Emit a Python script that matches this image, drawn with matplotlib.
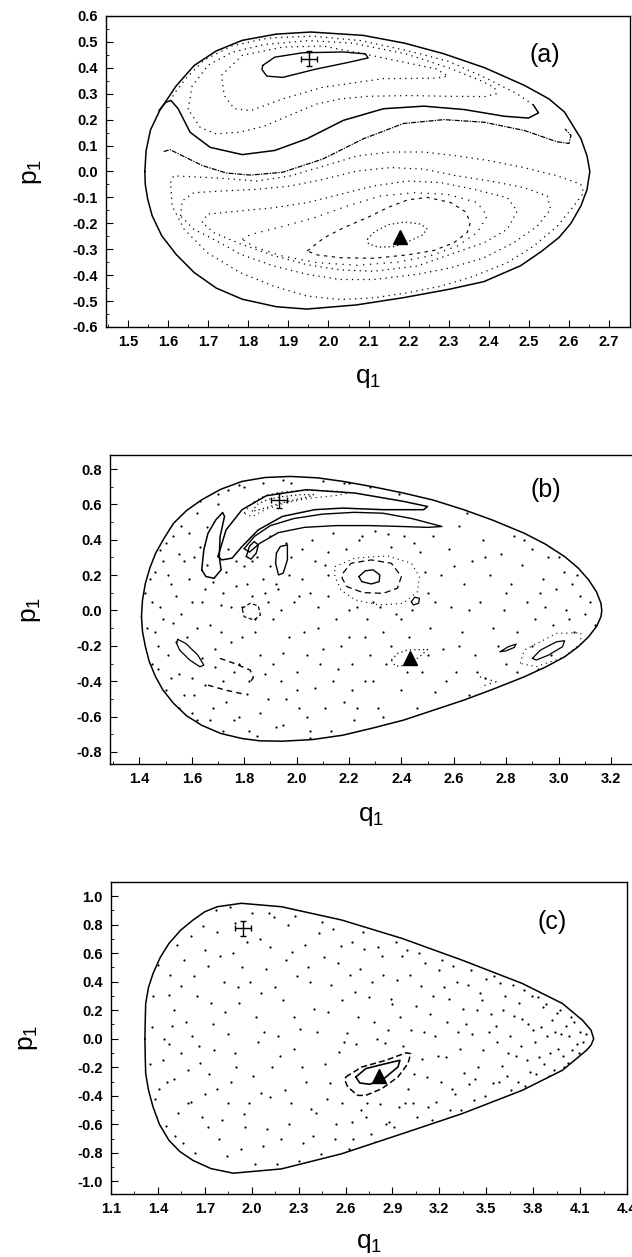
import numpy as np
import matplotlib
matplotlib.use("Agg")
import matplotlib.pyplot as plt
from matplotlib.ticker import FixedLocator, FormatStrFormatter
from matplotlib.patches import Polygon

plt.rcParams['font.family'] = ['Liberation Sans Narrow', 'Liberation Sans', 'DejaVu Sans']
plt.rcParams['axes.unicode_minus'] = False

# ---------------- panel (a) ----------------
a_xticks = [1.5, 1.6, 1.7, 1.8, 1.9, 2.0, 2.1, 2.2, 2.3, 2.4, 2.5, 2.6, 2.7]
a_yticks = [-0.6, -0.5, -0.4, -0.3, -0.2, -0.1, 0.0, 0.1, 0.2, 0.3, 0.4, 0.5, 0.6]
a_outer = [(1.542, 0.00), (1.545, 0.08), (1.556, 0.16), (1.579, 0.235), (1.62, 0.33), (1.665, 0.409),
           (1.72, 0.465), (1.785, 0.506), (1.87, 0.53), (1.956, 0.538), (2.087, 0.525), (2.19, 0.495),
           (2.288, 0.454), (2.39, 0.40), (2.489, 0.332), (2.55, 0.28), (2.589, 0.229), (2.63, 0.126),
           (2.645, 0.06), (2.652, 0.0), (2.645, -0.07), (2.63, -0.132), (2.605, -0.20), (2.575, -0.255),
           (2.53, -0.31), (2.479, -0.364), (2.44, -0.39), (2.388, -0.425), (2.30, -0.455), (2.187, -0.487),
           (2.07, -0.515), (1.946, -0.531), (1.87, -0.522), (1.785, -0.493), (1.72, -0.45), (1.665, -0.39),
           (1.62, -0.32), (1.584, -0.248), (1.56, -0.17), (1.549, -0.106), (1.543, -0.05)]
a_cross_island = [(1.836, 0.409), (1.866, 0.441), (1.936, 0.458), (2.037, 0.461), (2.092, 0.454),
                  (2.099, 0.438), (2.047, 0.420), (1.966, 0.394), (1.886, 0.363), (1.846, 0.368),
                  (1.834, 0.394)]
a_ring2 = [(1.733, 0.371), (1.785, 0.448), (1.886, 0.480), (1.986, 0.484), (2.087, 0.454),
           (2.187, 0.422), (2.268, 0.396), (2.298, 0.368), (2.268, 0.36), (2.137, 0.358),
           (1.986, 0.325), (1.886, 0.28), (1.806, 0.235), (1.765, 0.242), (1.740, 0.293)]
a_ring3 = [(1.65, 0.24), (1.66, 0.33), (1.70, 0.41), (1.76, 0.46), (1.84, 0.49), (1.95, 0.505),
           (2.06, 0.495), (2.19, 0.455), (2.30, 0.40), (2.38, 0.35), (2.414, 0.325), (2.419, 0.30),
           (2.39, 0.289), (2.30, 0.29), (2.20, 0.293), (2.10, 0.29), (2.03, 0.28), (1.97, 0.26),
           (1.90, 0.215), (1.84, 0.175), (1.78, 0.152), (1.72, 0.145), (1.68, 0.17)]
a_sep4_low = [(1.577, 0.235), (1.594, 0.267), (1.607, 0.274), (1.625, 0.242), (1.655, 0.151),
              (1.705, 0.093), (1.785, 0.065), (1.866, 0.081), (1.946, 0.126), (2.037, 0.197),
              (2.137, 0.242), (2.238, 0.252), (2.338, 0.239), (2.439, 0.213), (2.499, 0.206),
              (2.524, 0.226), (2.511, 0.257)]
a_sep4_up = [(2.511, 0.257), (2.47, 0.30), (2.40, 0.355), (2.30, 0.425), (2.20, 0.465), (2.08, 0.505),
             (1.96, 0.522), (1.85, 0.515), (1.76, 0.485), (1.69, 0.43), (1.645, 0.36), (1.615, 0.30),
             (1.607, 0.274)]
a_sep5 = [(1.589, 0.077), (1.605, 0.084), (1.635, 0.061), (1.685, 0.023), (1.745, -0.006),
          (1.806, -0.014), (1.886, -0.003), (1.986, 0.048), (2.087, 0.126), (2.187, 0.185),
          (2.288, 0.2), (2.388, 0.19), (2.489, 0.158), (2.569, 0.115), (2.60, 0.108), (2.605, 0.139),
          (2.59, 0.164)]
a_c6 = [(1.606, -0.043), (1.614, -0.017), (1.656, -0.020), (1.739, -0.027), (1.822, -0.037),
        (1.905, -0.017), (1.989, 0.021), (2.072, 0.060), (2.155, 0.075), (2.238, 0.075), (2.321, 0.060),
        (2.404, 0.041), (2.487, 0.015), (2.571, -0.017), (2.629, -0.049), (2.637, -0.082),
        (2.612, -0.133), (2.571, -0.211), (2.512, -0.288), (2.446, -0.352), (2.363, -0.404),
        (2.280, -0.443), (2.197, -0.468), (2.113, -0.488), (2.030, -0.494), (1.947, -0.481),
        (1.864, -0.443), (1.781, -0.391), (1.698, -0.314), (1.640, -0.223), (1.610, -0.133)]
a_c7 = [(1.631, -0.172), (1.635, -0.114), (1.664, -0.082), (1.739, -0.075), (1.822, -0.069),
        (1.905, -0.056), (1.989, -0.030), (2.072, 0.002), (2.155, 0.015), (2.238, 0.009),
        (2.321, -0.017), (2.404, -0.037), (2.487, -0.062), (2.546, -0.095), (2.554, -0.146),
        (2.521, -0.211), (2.462, -0.275), (2.388, -0.333), (2.304, -0.372), (2.221, -0.397),
        (2.113, -0.417), (2.030, -0.417), (1.947, -0.397), (1.864, -0.365), (1.781, -0.320),
        (1.714, -0.262), (1.664, -0.223)]
a_c8 = [(1.685, -0.197), (1.698, -0.165), (1.781, -0.152), (1.864, -0.140), (1.947, -0.120),
        (2.030, -0.088), (2.113, -0.056), (2.197, -0.037), (2.280, -0.043), (2.363, -0.069),
        (2.446, -0.101), (2.471, -0.153), (2.446, -0.223), (2.388, -0.275), (2.304, -0.320),
        (2.221, -0.365), (2.113, -0.385), (2.030, -0.38), (1.947, -0.36), (1.864, -0.325),
        (1.781, -0.280), (1.714, -0.236)]
a_c8b = [(1.785, -0.262), (1.806, -0.243), (1.881, -0.214), (1.964, -0.179), (2.047, -0.133),
         (2.130, -0.095), (2.213, -0.082), (2.296, -0.088), (2.371, -0.120), (2.396, -0.172),
         (2.371, -0.236), (2.321, -0.288), (2.255, -0.325), (2.172, -0.350), (2.072, -0.362),
         (1.972, -0.352), (1.881, -0.325), (1.814, -0.290)]
a_c9 = [(1.947, -0.307), (1.989, -0.256), (2.038, -0.217), (2.097, -0.178), (2.147, -0.140),
        (2.197, -0.110), (2.246, -0.100), (2.305, -0.120), (2.342, -0.156), (2.354, -0.197),
        (2.346, -0.236), (2.313, -0.275), (2.263, -0.305), (2.197, -0.322), (2.113, -0.335),
        (2.030, -0.333), (1.972, -0.322)]
a_c10 = [(2.097, -0.262), (2.115, -0.232), (2.15, -0.205), (2.19, -0.195), (2.23, -0.203),
         (2.246, -0.222), (2.235, -0.245), (2.20, -0.27), (2.165, -0.29), (2.125, -0.292),
         (2.10, -0.28)]
a_cross = (1.951, 0.435, 0.02, 0.028)
a_tri = (2.178, -0.252)

# ---------------- panel (b) ----------------
b_xticks = [1.4, 1.6, 1.8, 2.0, 2.2, 2.4, 2.6, 2.8, 3.0, 3.2]
b_yticks = [-0.8, -0.6, -0.4, -0.2, 0.0, 0.2, 0.4, 0.6, 0.8]
b_outer = [(1.408, -0.035), (1.412, 0.06), (1.423, 0.154), (1.44, 0.24), (1.462, 0.324), (1.495, 0.41),
           (1.531, 0.494), (1.58, 0.565), (1.638, 0.626), (1.71, 0.685), (1.792, 0.730), (1.88, 0.752),
           (1.977, 0.758), (2.08, 0.75), (2.177, 0.730), (2.29, 0.70), (2.408, 0.664), (2.52, 0.625),
           (2.638, 0.570), (2.75, 0.51), (2.869, 0.437), (2.95, 0.375), (3.023, 0.305), (3.075, 0.24),
           (3.115, 0.173), (3.145, 0.105), (3.162, 0.040), (3.165, 0.0), (3.162, -0.035), (3.145, -0.09),
           (3.115, -0.148), (3.075, -0.205), (3.023, -0.262), (2.95, -0.32), (2.869, -0.375), (2.75, -0.445),
           (2.638, -0.507), (2.52, -0.565), (2.408, -0.620), (2.29, -0.665), (2.177, -0.705), (2.06, -0.73),
           (1.946, -0.739), (1.86, -0.737), (1.792, -0.724), (1.71, -0.695), (1.638, -0.649), (1.58, -0.595),
           (1.531, -0.526), (1.49, -0.45), (1.462, -0.375), (1.438, -0.29), (1.423, -0.205), (1.412, -0.12)]
b_crescent_a = [(1.700, 0.305), (1.731, 0.456), (1.792, 0.570), (1.885, 0.649), (2.038, 0.683),
                (2.223, 0.664), (2.408, 0.617), (2.500, 0.588), (2.485, 0.570), (2.331, 0.570),
                (2.177, 0.579), (2.069, 0.570), (1.946, 0.532), (1.854, 0.456), (1.792, 0.362),
                (1.754, 0.296), (1.715, 0.286)]
b_cross_island = [(1.830, 0.560), (1.85, 0.60), (1.89, 0.628), (1.95, 0.645), (2.02, 0.655),
                  (2.065, 0.655), (2.05, 0.645), (1.99, 0.625), (1.93, 0.603), (1.87, 0.575)]
b_cross_ring = [(1.80, 0.55), (1.83, 0.61), (1.88, 0.65), (1.95, 0.672), (2.05, 0.68), (2.15, 0.675),
                (2.20, 0.665), (2.15, 0.650), (2.05, 0.635), (1.96, 0.61), (1.88, 0.57), (1.83, 0.53)]
b_crescent_l = [(1.80, 0.35), (1.84, 0.42), (1.90, 0.48), (1.99, 0.52), (2.10, 0.545), (2.22, 0.555),
                (2.33, 0.55), (2.44, 0.52), (2.555, 0.475), (2.50, 0.47), (2.40, 0.475), (2.28, 0.48),
                (2.15, 0.48), (2.03, 0.47), (1.93, 0.44), (1.86, 0.38), (1.82, 0.33)]
b_island_d = [(1.638, 0.230), (1.646, 0.343), (1.662, 0.437), (1.692, 0.513), (1.718, 0.554),
              (1.725, 0.532), (1.708, 0.418), (1.705, 0.305), (1.712, 0.230), (1.685, 0.182),
              (1.654, 0.192)]
b_island_e = [(1.808, 0.305), (1.820, 0.362), (1.838, 0.390), (1.854, 0.371), (1.846, 0.324),
              (1.826, 0.290)]
b_island_f = [(1.923, 0.324), (1.938, 0.362), (1.965, 0.371), (1.965, 0.286), (1.949, 0.211),
              (1.931, 0.201), (1.920, 0.267)]
b_centre_in = [(2.238, 0.192), (2.262, 0.224), (2.292, 0.230), (2.318, 0.201), (2.315, 0.163),
               (2.285, 0.150), (2.249, 0.163)]
b_centre_mid = [(2.177, 0.211), (2.208, 0.267), (2.285, 0.286), (2.362, 0.267), (2.400, 0.192),
                (2.385, 0.126), (2.331, 0.097), (2.254, 0.101), (2.192, 0.135), (2.174, 0.182)]
b_centre_out = [(2.146, 0.248), (2.223, 0.296), (2.346, 0.309), (2.438, 0.267), (2.469, 0.192),
                (2.462, 0.107), (2.408, 0.041), (2.315, 0.031), (2.223, 0.060), (2.169, 0.116),
                (2.146, 0.192)]
b_island_g = [(2.438, 0.050), (2.451, 0.075), (2.469, 0.069), (2.466, 0.041), (2.446, 0.031)]
b_island_h = [(1.792, 0.012), (1.823, 0.041), (1.854, 0.026), (1.862, -0.025), (1.838, -0.054),
              (1.800, -0.035)]
b_island_i = [(1.546, -0.163), (1.577, -0.186), (1.623, -0.252), (1.646, -0.309), (1.631, -0.318),
              (1.592, -0.280), (1.554, -0.224), (1.542, -0.186)]
b_arc_j = [(1.708, -0.271), (1.762, -0.299), (1.823, -0.337), (1.835, -0.38), (1.82, -0.41)]
b_arc_k = [(1.662, -0.422), (1.731, -0.451), (1.800, -0.473)]
b_island_m = [(2.900, -0.271), (2.931, -0.224), (2.992, -0.177), (3.023, -0.171), (3.015, -0.205),
              (2.962, -0.252), (2.915, -0.280)]
b_ring_m = [(2.854, -0.299), (2.869, -0.224), (2.992, -0.129), (3.085, -0.126), (3.085, -0.186),
            (3.023, -0.262), (2.915, -0.318)]
b_island_n = [(2.777, -0.233), (2.808, -0.205), (2.838, -0.190), (2.831, -0.209), (2.800, -0.228)]
b_arc_o = [(2.700, -0.375), (2.762, -0.403), (2.700, -0.432)]
b_island_p = [(2.362, -0.280), (2.385, -0.243), (2.423, -0.224), (2.500, -0.220), (2.469, -0.262),
              (2.423, -0.309), (2.377, -0.315)]
b_dots = [(1.43, 0.30), (1.42, 0.10), (1.43, -0.10), (1.45, -0.30), (1.47, 0.45), (1.50, -0.45),
          (1.52, 0.55), (1.55, -0.55), (1.58, 0.62), (1.62, -0.62), (1.66, 0.68), (1.72, -0.68),
          (1.78, 0.71), (1.85, -0.71), (1.95, 0.74), (2.05, -0.72), (2.20, 0.72), (2.30, -0.68),
          (2.45, 0.66), (2.60, -0.56), (2.70, 0.56), (2.80, -0.47), (2.90, 0.46), (2.95, -0.38),
          (3.02, 0.34), (3.08, -0.24), (3.10, 0.22), (3.14, -0.08), (3.15, 0.10),
          (1.46, 0.22), (1.48, 0.02), (1.47, -0.20), (1.50, 0.38), (1.52, 0.15), (1.53, -0.07),
          (1.55, -0.36), (1.56, 0.48), (1.57, 0.28), (1.58, -0.15), (1.60, 0.05), (1.61, -0.48),
          (1.62, 0.55), (1.63, 0.36), (1.64, -0.27), (1.65, 0.12), (1.67, -0.08), (1.68, -0.55),
          (1.70, 0.60), (1.71, 0.03), (1.72, -0.40), (1.73, 0.22), (1.75, -0.18), (1.76, -0.62),
          (1.77, 0.14), (1.78, -0.30), (1.80, 0.25), (1.81, -0.47), (1.83, 0.08), (1.84, -0.12),
          (1.86, -0.58), (1.87, 0.18), (1.88, -0.36), (1.90, 0.42), (1.91, -0.05), (1.92, -0.66),
          (1.93, 0.12), (1.95, -0.24), (1.96, -0.50), (1.98, 0.30), (1.99, 0.05), (2.00, -0.35),
          (2.02, 0.18), (2.03, -0.12), (2.04, -0.60), (2.06, 0.40), (2.07, -0.44), (2.08, 0.02),
          (2.10, -0.22), (2.11, 0.26), (2.13, -0.68), (2.14, 0.44), (2.15, -0.05), (2.16, -0.33),
          (2.18, -0.52), (2.19, 0.35), (2.20, -0.15), (2.22, -0.62), (2.23, 0.02), (2.24, 0.40),
          (2.26, -0.40), (2.27, -0.05), (2.28, -0.25), (2.30, 0.45), (2.31, -0.55), (2.33, -0.12),
          (2.34, -0.30), (2.36, 0.36), (2.37, -0.64), (2.38, -0.02), (2.40, -0.45), (2.41, 0.42),
          (2.43, -0.15), (2.44, 0.00), (2.46, -0.55), (2.47, 0.33), (2.48, -0.35), (2.50, 0.10),
          (2.51, -0.10), (2.52, 0.42), (2.53, -0.46), (2.55, 0.20), (2.56, -0.22), (2.57, -0.60),
          (2.58, 0.35), (2.59, 0.02), (2.61, -0.35), (2.62, 0.48), (2.63, -0.12), (2.64, 0.15),
          (2.66, -0.48), (2.67, 0.28), (2.68, -0.25), (2.70, 0.05), (2.71, 0.40), (2.72, -0.38),
          (2.74, 0.20), (2.75, -0.10), (2.76, -0.50), (2.78, 0.32), (2.79, 0.00), (2.80, -0.30),
          (2.82, 0.15), (2.83, 0.42), (2.84, -0.12), (2.86, 0.26), (2.87, -0.40), (2.88, 0.05),
          (2.90, 0.35), (2.91, -0.05), (2.92, -0.33), (2.94, 0.18), (2.95, 0.02), (2.96, 0.30),
          (2.98, -0.08), (2.99, 0.12), (3.00, -0.30), (3.02, 0.22), (3.03, 0.00), (3.05, 0.15),
          (3.06, -0.12), (3.08, 0.08), (3.10, -0.02),
          (1.44, 0.40), (1.45, -0.40), (1.49, 0.28), (1.51, -0.25), (1.54, 0.08), (1.56, -0.02),
          (1.59, 0.44), (1.60, -0.38), (1.66, 0.47), (1.69, -0.22), (1.74, 0.35), (1.79, 0.02),
          (1.82, -0.68), (1.85, 0.30), (1.89, 0.05), (1.94, -0.40), (1.97, 0.20), (2.01, -0.55),
          (2.05, 0.10), (2.09, -0.30), (2.12, 0.33), (2.21, -0.45), (2.25, -0.68), (2.29, 0.05),
          (1.44, 0.18), (1.45, 0.05), (1.46, -0.12), (1.47, -0.33), (1.48, 0.34), (1.49, -0.05),
          (1.50, 0.50), (1.51, 0.20), (1.52, -0.38), (1.53, 0.42), (1.54, -0.18), (1.55, 0.32),
          (1.57, -0.48), (1.57, 0.58), (1.59, 0.18), (1.60, -0.58), (1.61, 0.30), (1.62, -0.10),
          (1.63, 0.62), (1.64, 0.05), (1.65, -0.42), (1.66, 0.26), (1.67, -0.62), (1.68, 0.16),
          (1.69, -0.32), (1.70, 0.66), (1.71, -0.12), (1.72, 0.10), (1.73, -0.52), (1.74, 0.68),
          (1.75, 0.02), (1.76, -0.35), (1.77, 0.28), (1.78, -0.60), (1.79, -0.15), (1.80, 0.70),
          (1.81, 0.15), (1.82, -0.40), (1.83, 0.28), (1.84, -0.05), (1.86, -0.25), (1.87, 0.72),
          (1.88, 0.10), (1.89, -0.50), (1.90, 0.25), (1.91, -0.30), (1.92, 0.15), (1.94, 0.00),
          (1.95, -0.65), (1.96, 0.38), (1.97, -0.15), (1.98, 0.72), (2.00, -0.45), (2.01, 0.08),
          (2.02, 0.35), (2.04, -0.25), (2.05, -0.68), (2.07, 0.28), (2.08, -0.10), (2.10, 0.73),
          (2.11, -0.55), (2.12, 0.08), (2.14, -0.40), (2.12, 0.20), (2.17, -0.20), (2.18, 0.72),
          (2.20, 0.00), (2.21, -0.30), (2.23, -0.55), (2.25, 0.42), (2.26, -0.15), (2.28, 0.70),
          (2.29, -0.40), (2.32, 0.02), (2.33, -0.60), (2.35, 0.43), (2.36, -0.20), (2.39, 0.66),
          (2.40, -0.05), (2.42, -0.35), (2.45, 0.38), (2.47, -0.60), (2.49, 0.22), (2.50, -0.25),
          (2.53, 0.05), (2.55, 0.62), (2.57, -0.40), (2.60, 0.25), (2.62, -0.20), (2.65, 0.55),
          (2.66, 0.00), (2.69, -0.35), (2.72, 0.30), (2.75, 0.52), (2.77, -0.20), (2.80, 0.10),
          (2.84, -0.35), (2.87, 0.40), (2.90, -0.20), (2.93, 0.10), (2.97, -0.25), (3.00, 0.30),
          (3.04, -0.05), (3.07, 0.20), (3.12, 0.05), (3.13, -0.15)]
b_cross = (1.932, 0.622, 0.03, 0.045)
b_tri = (2.432, -0.271)

# ---------------- panel (c) ----------------
c_xticks = [1.1, 1.4, 1.7, 2.0, 2.3, 2.6, 2.9, 3.2, 3.5, 3.8, 4.1, 4.4]
c_yticks = [-1.0, -0.8, -0.6, -0.4, -0.2, 0.0, 0.2, 0.4, 0.6, 0.8, 1.0]
c_outer = [(1.317, 0.0), (1.319, 0.12), (1.322, 0.247), (1.34, 0.36), (1.369, 0.457), (1.415, 0.57),
           (1.471, 0.668), (1.545, 0.76), (1.625, 0.832), (1.70, 0.89), (1.780, 0.925), (1.933, 0.949),
           (2.190, 0.925), (2.575, 0.832), (2.961, 0.703), (3.345, 0.551), (3.731, 0.387), (3.987, 0.247),
           (4.115, 0.130), (4.17, 0.06), (4.187, 0.0), (4.17, -0.045), (4.141, -0.081), (3.987, -0.221),
           (3.731, -0.361), (3.345, -0.525), (2.961, -0.666), (2.575, -0.806), (2.190, -0.912),
           (1.882, -0.942), (1.74, -0.91), (1.625, -0.853), (1.54, -0.79), (1.471, -0.712), (1.41, -0.60),
           (1.369, -0.478), (1.34, -0.36), (1.322, -0.245), (1.319, -0.12)]
c_island_out = [(2.601, -0.268), (2.704, -0.198), (2.858, -0.151), (2.986, -0.099), (3.017, -0.104),
                (2.999, -0.174), (2.935, -0.268), (2.832, -0.350), (2.729, -0.397), (2.678, -0.397),
                (2.614, -0.338), (2.596, -0.291)]
c_island_in = [(2.666, -0.268), (2.730, -0.209), (2.858, -0.174), (2.948, -0.151), (2.935, -0.198),
               (2.845, -0.280), (2.755, -0.319), (2.691, -0.310)]
c_dots = [(1.40, 0.52), (1.47, 0.31), (1.52, 0.66), (1.58, 0.12), (1.63, 0.44), (1.69, 0.79), (1.74, 0.25),
          (1.80, 0.58), (1.85, 0.03), (1.91, 0.36), (1.97, 0.68), (2.03, 0.15), (2.09, 0.49), (2.14, 0.85),
          (2.20, 0.27), (2.26, 0.61), (2.31, 0.07), (2.37, 0.40), (2.43, 0.74), (2.49, 0.19), (2.55, 0.53),
          (2.61, 0.04), (2.66, 0.33), (2.72, 0.63), (2.78, 0.12), (2.84, 0.45), (2.90, 0.24), (2.96, 0.58),
          (3.02, 0.06), (3.08, 0.37), (3.14, 0.17), (3.20, 0.48), (3.26, 0.28), (3.32, 0.05), (3.38, 0.38),
          (3.44, 0.20), (3.50, 0.42), (3.56, 0.09), (3.62, 0.30), (3.68, 0.16), (3.74, 0.34), (3.80, 0.06),
          (3.86, 0.22), (3.92, 0.13), (3.98, 0.03), (4.04, 0.15), (4.10, 0.05),
          (1.36, 0.08), (1.43, -0.15), (1.49, 0.09), (1.55, 0.37), (1.61, 0.72), (1.66, -0.05), (1.72, 0.51),
          (1.77, 0.90), (1.83, 0.19), (1.89, 0.81), (1.94, 0.50), (2.00, 0.88), (2.06, 0.32), (2.12, 0.64),
          (2.17, 0.02), (2.23, 0.80), (2.29, 0.44), (2.34, 0.66), (2.40, 0.21), (2.46, 0.57), (2.52, 0.77),
          (2.58, 0.27), (2.64, 0.68), (2.69, 0.49), (2.75, 0.29), (2.81, 0.64), (2.87, 0.06), (2.93, 0.41),
          (2.99, 0.62), (3.05, 0.23), (3.11, 0.53), (3.17, 0.02), (3.23, 0.36), (3.29, 0.51), (3.35, 0.21),
          (3.41, 0.03), (3.47, 0.27), (3.53, 0.17), (3.59, 0.39), (3.65, 0.02), (3.71, 0.25), (3.77, 0.10),
          (3.83, 0.29), (3.89, 0.02), (3.95, 0.18), (4.01, 0.09),
          (1.38, -0.42), (1.45, -0.61), (1.50, -0.28), (1.56, -0.73), (1.61, -0.44), (1.67, -0.17),
          (1.72, -0.62), (1.78, -0.35), (1.84, -0.82), (1.89, -0.10), (1.95, -0.53), (2.01, -0.26),
          (2.07, -0.75), (2.12, -0.41), (2.18, -0.12), (2.24, -0.60), (2.30, -0.86), (2.35, -0.30),
          (2.41, -0.52), (2.47, -0.18), (2.53, -0.70), (2.58, -0.45), (2.64, -0.58), (2.70, -0.50),
          (2.76, -0.67), (2.82, -0.46), (2.88, -0.58), (2.94, -0.48), (3.00, -0.35), (3.06, -0.55),
          (3.12, -0.27), (3.18, -0.44), (3.24, -0.13), (3.30, -0.39), (3.36, -0.24), (3.42, -0.43),
          (3.48, -0.08), (3.54, -0.31), (3.60, -0.19), (3.66, -0.36), (3.72, -0.05), (3.78, -0.23),
          (3.84, -0.13), (3.90, -0.26), (3.96, -0.07), (4.02, -0.17), (4.08, -0.04),
          (1.35, -0.18), (1.41, -0.35), (1.47, -0.04), (1.53, -0.52), (1.59, -0.22), (1.64, -0.80),
          (1.70, -0.39), (1.76, -0.08), (1.81, -0.57), (1.87, -0.30), (1.93, -0.77), (1.98, -0.45),
          (2.04, -0.02), (2.10, -0.63), (2.16, -0.88), (2.21, -0.36), (2.27, -0.07), (2.33, -0.73),
          (2.38, -0.49), (2.44, -0.81), (2.50, -0.31), (2.56, -0.09), (2.62, -0.77), (2.67, -0.04),
          (2.73, -0.55), (2.79, -0.72), (2.85, -0.03), (2.91, -0.62), (2.97, -0.05), (3.03, -0.45),
          (3.09, -0.14), (3.15, -0.57), (3.21, -0.30), (3.27, -0.50), (3.33, -0.07), (3.39, -0.32),
          (3.45, -0.20), (3.51, -0.46), (3.57, -0.02), (3.63, -0.26), (3.69, -0.12), (3.75, -0.33),
          (3.81, -0.02), (3.87, -0.18), (3.93, -0.22), (3.99, -0.12), (4.05, -0.08), (4.12, -0.02),
          (1.37, 0.30), (1.39, -0.55), (1.42, 0.62), (1.44, 0.00), (1.46, -0.30), (1.48, 0.45),
          (1.50, 0.20), (1.51, -0.68), (1.53, 0.78), (1.55, -0.10), (1.57, 0.55), (1.59, -0.45),
          (1.62, 0.02), (1.64, 0.85), (1.65, 0.30), (1.68, -0.55), (1.70, 0.62), (1.73, -0.25),
          (1.75, 0.10), (1.78, 0.75), (1.79, -0.70), (1.82, 0.40), (1.85, -0.45), (1.86, 0.92),
          (1.88, 0.60), (1.90, -0.20), (1.92, 0.25), (1.96, -0.62), (1.99, 0.40), (2.02, -0.88),
          (2.05, 0.70), (2.06, -0.38), (2.08, 0.05), (2.11, 0.88), (2.13, -0.20), (2.15, 0.36),
          (2.19, -0.70), (2.22, 0.55), (2.25, -0.45), (2.27, 0.15), (2.28, 0.86), (2.32, -0.20),
          (2.36, 0.50), (2.39, -0.68), (2.42, 0.05), (2.45, 0.82), (2.48, -0.42), (2.51, 0.38),
          (2.54, -0.60), (2.57, 0.65), (2.59, -0.02), (2.63, 0.45), (2.65, -0.70), (2.68, 0.15),
          (2.71, 0.75), (2.74, -0.45), (2.77, 0.40), (2.80, 0.00), (2.83, 0.58), (2.86, -0.60),
          (2.89, 0.28), (2.92, 0.68), (2.95, 0.15), (2.98, -0.45), (3.01, 0.45), (3.04, -0.25),
          (3.07, 0.60), (3.10, 0.05), (3.13, -0.48), (3.16, 0.30), (3.19, -0.12), (3.22, 0.55),
          (3.25, 0.12), (3.28, -0.35), (3.31, 0.40), (3.34, -0.50), (3.37, 0.10), (3.40, 0.48),
          (3.43, -0.28), (3.46, 0.32), (3.49, -0.40), (3.52, 0.05), (3.55, 0.44), (3.58, -0.30),
          (3.61, 0.20), (3.64, -0.10), (3.67, 0.38), (3.70, -0.30), (3.73, 0.14), (3.76, -0.15),
          (3.79, 0.30), (3.82, -0.25), (3.85, 0.08), (3.88, 0.24), (3.91, -0.10), (3.94, 0.05),
          (3.97, 0.20), (4.00, -0.20), (4.03, 0.02), (4.06, 0.12), (4.09, -0.10), (4.14, 0.03)]
c_cross = (1.946, 0.773, 0.05, 0.053)
c_tri = (2.814, -0.263)

DOT = (0, (1, 3.5))


def curve(ax, pts, closed=True, ls='-', lw=1.0):
    q = [p[0] for p in pts]
    p = [p[1] for p in pts]
    if closed:
        q.append(q[0])
        p.append(p[0])
    ax.plot(q, p, color='black', linestyle=ls, linewidth=lw, solid_capstyle='round')


def dots(ax, pts, outer):
    q = [p[0] for p in pts]
    p = [p[1] for p in pts]
    art, = ax.plot(q, p, linestyle='none', marker='o', markersize=1.6, color='black', markeredgewidth=0)
    poly = Polygon(outer, closed=True, transform=ax.transData, facecolor='none', edgecolor='none')
    ax.add_patch(poly)
    art.set_clip_path(poly)


def markers(ax, cross, tri, tri_size):
    ax.errorbar(cross[0], cross[1], xerr=cross[2], yerr=cross[3], color='black', linewidth=1.0,
                capsize=2.5, capthick=1.0)
    ax.plot(tri[0], tri[1], marker='^', markersize=tri_size, color='black', linestyle='none')


def style(ax, xlim, ylim, xt, yt, xminor, yminor, label, label_xy):
    ax.set_xlim(*xlim)
    ax.set_ylim(*ylim)
    ax.xaxis.set_major_locator(FixedLocator(xt))
    ax.yaxis.set_major_locator(FixedLocator(yt))
    ax.xaxis.set_minor_locator(FixedLocator(xminor))
    ax.yaxis.set_minor_locator(FixedLocator(yminor))
    ax.xaxis.set_major_formatter(FormatStrFormatter('%.1f'))
    ax.yaxis.set_major_formatter(FormatStrFormatter('%.1f'))
    ax.tick_params(which='major', direction='in', length=5, width=0.8, labelsize=10.5, pad=6,
                   top=False, right=False)
    ax.tick_params(which='minor', direction='in', length=2.5, width=0.6, top=False, right=False)
    for t in ax.get_xticklabels() + ax.get_yticklabels():
        t.set_fontweight('bold')
    for s in ax.spines.values():
        s.set_linewidth(1.0)
    ax.set_xlabel(r'q$_\mathregular{1}$', fontsize=19)
    ax.set_ylabel(r'p$_\mathregular{1}$', fontsize=19, va='center')
    ax.text(label_xy[0], label_xy[1], label, transform=ax.transAxes, fontsize=18,
            ha='center', va='center')


fig = plt.figure(figsize=(6.32, 12.57), dpi=100)

# (a)
ax = fig.add_axes([0.1677, 0.7399, 0.829, 0.2474])
curve(ax, a_outer, lw=1.1)
curve(ax, a_cross_island, lw=1.0)
curve(ax, a_ring2, ls=DOT, lw=0.9)
curve(ax, a_ring3, ls=DOT, lw=0.9)
curve(ax, a_sep4_low, closed=False, lw=1.1)
curve(ax, a_sep4_up, closed=False, ls=DOT, lw=0.9)
curve(ax, a_sep5, closed=False, ls=(0, (4, 1, 1, 1)), lw=0.9)
curve(ax, a_c6, ls=DOT, lw=0.9)
curve(ax, a_c7, ls=DOT, lw=0.9)
curve(ax, a_c8, ls=DOT, lw=0.9)
curve(ax, a_c8b, ls=(0, (1, 4.5)), lw=0.9)
curve(ax, a_c9, ls=(0, (3, 4)), lw=0.8)
curve(ax, a_c10, ls=(0, (1, 2.5)), lw=0.9)
markers(ax, a_cross, a_tri, 10)
style(ax, (1.445, 2.752), (-0.6, 0.6), a_xticks, a_yticks,
      [1.45 + 0.1 * i for i in range(13)], [-0.55 + 0.1 * i for i in range(12)],
      '(a)', (0.838, 0.875))
ax.xaxis.set_label_coords(0.5, -0.125)
ax.yaxis.set_label_coords(-0.141, 0.5)

# (b)
ax = fig.add_axes([0.1741, 0.3922, 0.8386, 0.2458])
dots(ax, b_dots, b_outer)
curve(ax, b_outer, lw=1.1)
curve(ax, b_crescent_a, lw=1.1)
curve(ax, b_cross_island, ls=(0, (1, 2.5)), lw=0.9)
curve(ax, b_cross_ring, ls=DOT, lw=0.8)
curve(ax, b_crescent_l, lw=1.0)
curve(ax, b_island_d, lw=1.1)
curve(ax, b_island_e, lw=1.0)
curve(ax, b_island_f, lw=1.0)
curve(ax, b_centre_in, lw=1.0)
curve(ax, b_centre_mid, ls=(0, (5, 3)), lw=0.9)
curve(ax, b_centre_out, ls=DOT, lw=0.8)
curve(ax, b_island_g, lw=0.9)
curve(ax, b_island_h, ls=(0, (3, 2)), lw=0.9)
curve(ax, b_island_i, lw=0.9)
curve(ax, b_arc_j, closed=False, ls=(0, (4, 3)), lw=1.0)
curve(ax, b_arc_k, closed=False, ls=(0, (4, 3)), lw=1.0)
curve(ax, b_island_m, lw=0.9)
curve(ax, b_ring_m, ls=DOT, lw=0.8)
curve(ax, b_island_n, lw=0.9)
curve(ax, b_arc_o, closed=False, ls=DOT, lw=0.9)
curve(ax, b_island_p, ls=(0, (1, 2.5)), lw=0.9)
markers(ax, b_cross, b_tri, 10)
style(ax, (1.288, 3.311), (-0.868, 0.879), b_xticks, b_yticks,
      [1.3 + 0.2 * i for i in range(11)], [-0.7 + 0.2 * i for i in range(8)],
      '(b)', (0.823, 0.887))
ax.xaxis.set_label_coords(0.5 * 522 / 530, -0.13)
ax.yaxis.set_label_coords(-0.15, 0.5)

# (c)
ax = fig.add_axes([0.1756, 0.0501, 0.8165, 0.2482])
dots(ax, c_dots, c_outer)
curve(ax, c_outer, lw=1.1)
curve(ax, c_island_out, ls=(0, (4, 2)), lw=1.1)
curve(ax, c_island_in, lw=1.2)
markers(ax, c_cross, c_tri, 10)
style(ax, (1.1, 4.4), (-1.088, 1.098), c_xticks, c_yticks,
      [1.25 + 0.3 * i for i in range(11)], [-0.9 + 0.2 * i for i in range(10)],
      '(c)', (0.855, 0.872))
ax.xaxis.set_label_coords(0.5, -0.12)
ax.yaxis.set_label_coords(-0.16, 0.5)

fig.savefig('out.png', dpi=100)
